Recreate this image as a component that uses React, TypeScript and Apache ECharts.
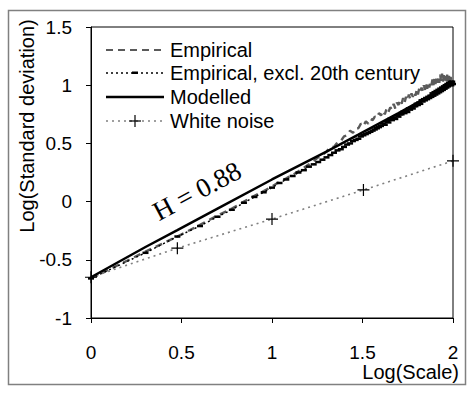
import React, { useEffect, useRef } from "react";
import * as echarts from "echarts";

// Scales (time window lengths) at which the standard deviation was measured
const scales = [
  1, 2, 3, 4, 5, 6, 7, 8, 9, 10, 11, 12, 13, 14, 15, 16, 17, 18, 19, 20,
  21, 22, 23, 24, 25, 26, 27, 28, 29, 30, 31, 32, 33, 34, 35, 36, 37, 38, 39, 40,
  41, 42, 43, 44, 45, 46, 47, 48, 49, 50, 51, 52, 53, 54, 55, 56, 57, 58, 59, 60,
  61, 62, 63, 64, 65, 66, 67, 68, 69, 70, 71, 72, 73, 74, 75, 76, 77, 78, 79, 80,
  81, 82, 83, 84, 85, 86, 87, 88, 89, 90, 91, 92, 93, 94, 95, 96, 97, 98, 99, 100,
];

// Log(Standard deviation), empirical
const empirical = [
  -0.66, -0.43, -0.3, -0.2, -0.12, -0.06, 0.0, 0.05, 0.09, 0.13,
  0.17, 0.2, 0.23, 0.26, 0.29, 0.32, 0.35, 0.38, 0.4, 0.43,
  0.47, 0.47, 0.51, 0.52, 0.56, 0.57, 0.61, 0.59, 0.63, 0.63,
  0.67, 0.65, 0.69, 0.67, 0.71, 0.7, 0.73, 0.72, 0.76, 0.74,
  0.78, 0.75, 0.8, 0.77, 0.81, 0.79, 0.84, 0.8, 0.85, 0.83,
  0.87, 0.84, 0.89, 0.85, 0.9, 0.87, 0.92, 0.88, 0.93, 0.9,
  0.94, 0.91, 0.96, 0.92, 0.97, 0.94, 0.98, 0.95, 1.0, 0.96,
  1.01, 0.97, 1.02, 0.98, 1.03, 1.0, 1.05, 1.0, 1.06, 1.01,
  1.07, 1.02, 1.08, 1.02, 1.09, 1.03, 1.1, 1.03, 1.09, 1.04,
  1.08, 1.03, 1.09, 1.04, 1.08, 1.03, 1.07, 1.04, 1.06, 1.03,
];

// Log(Standard deviation), empirical excluding the 20th century
const empiricalExcl20th = [
  -0.66, -0.44, -0.3, -0.21, -0.13, -0.07, -0.01, 0.04, 0.08, 0.12,
  0.16, 0.19, 0.22, 0.25, 0.27, 0.3, 0.32, 0.34, 0.36, 0.38,
  0.4, 0.42, 0.44, 0.45, 0.47, 0.49, 0.5, 0.52, 0.53, 0.54,
  0.56, 0.57, 0.58, 0.59, 0.6, 0.61, 0.62, 0.63, 0.64, 0.65,
  0.67, 0.66, 0.69, 0.68, 0.71, 0.7, 0.72, 0.71, 0.74, 0.73,
  0.75, 0.75, 0.77, 0.76, 0.78, 0.77, 0.8, 0.79, 0.81, 0.8,
  0.82, 0.82, 0.84, 0.83, 0.85, 0.84, 0.87, 0.86, 0.88, 0.87,
  0.89, 0.88, 0.9, 0.89, 0.91, 0.9, 0.93, 0.91, 0.94, 0.92,
  0.95, 0.93, 0.96, 0.94, 0.97, 0.95, 0.98, 0.96, 0.99, 0.97,
  1.0, 0.98, 1.01, 0.99, 1.02, 1.0, 1.03, 1.0, 1.03, 1.01,
];

// Modelled curve
const modelledScales = [1, 2, 3, 5, 10, 20, 30, 50, 100];
const modelled = [-0.65, -0.39, -0.245, -0.06, 0.19, 0.43, 0.575, 0.76, 1.02];

// White noise reference
const whiteNoiseScales = [1, 3, 10, 32, 100];
const whiteNoise = [-0.65, -0.4, -0.15, 0.1, 0.35];

const xTicks = [0, 0.5, 1, 1.5, 2];
const yTicks = [-1, -0.5, 0, 0.5, 1, 1.5];

const names = ["Empirical", "Empirical, excl. 20th century", "Modelled", "White noise"];

const SANS = "'Liberation Sans', Arial, sans-serif";
const SERIF = "'Liberation Serif', 'Times New Roman', serif";
const PLUS = "path://M5.4,0h1.2v5.4h5.4v1.2h-5.4v5.4h-1.2v-5.4h-5.4v-1.2h5.4z";

const GRAY_DASH = "#5a5a5a";
const GRAY_DOT = "#808080";

const toPoints = (s: number[], v: number[]) => s.map((n, i) => [Math.log10(n), v[i]]);

// legend layout (pixels)
const LEG_X0 = 106;
const LEG_X1 = 164;
const LEG_TEXT_X = 170;
const LEG_ROWS = [50, 73, 97, 121];

function legendGraphics() {
  const g: any[] = [];
  const line = (y: number, style: any) => ({
    type: "line",
    silent: true,
    shape: { x1: LEG_X0, y1: y, x2: LEG_X1, y2: y },
    style: { fill: "none", ...style },
  });
  g.push(line(LEG_ROWS[0], { stroke: GRAY_DASH, lineWidth: 2.2, lineDash: [7, 5] }));
  g.push(line(LEG_ROWS[1], { stroke: "#000", lineWidth: 1.5, lineDash: [2, 3] }));
  g.push({
    type: "rect",
    silent: true,
    shape: { x: (LEG_X0 + LEG_X1) / 2 - 3, y: LEG_ROWS[1] - 1.5, width: 6, height: 2.5 },
    style: { fill: "#000" },
  });
  g.push(line(LEG_ROWS[2], { stroke: "#000", lineWidth: 2.5 }));
  g.push(line(LEG_ROWS[3], { stroke: GRAY_DOT, lineWidth: 1.6, lineDash: [2, 4] }));
  const cx = (LEG_X0 + LEG_X1) / 2;
  g.push(line(LEG_ROWS[3], { stroke: "#000", lineWidth: 1.2 }));
  g[g.length - 1].shape = { x1: cx - 6, y1: LEG_ROWS[3], x2: cx + 6, y2: LEG_ROWS[3] };
  g.push({
    type: "line",
    silent: true,
    shape: { x1: cx, y1: LEG_ROWS[3] - 6, x2: cx, y2: LEG_ROWS[3] + 6 },
    style: { stroke: "#000", lineWidth: 1.2 },
  });
  names.forEach((name, i) => {
    g.push({
      type: "text",
      silent: true,
      x: LEG_TEXT_X,
      y: LEG_ROWS[i],
      style: {
        text: name,
        fontSize: 20,
        fontFamily: SANS,
        fill: "#000",
        align: "left",
        verticalAlign: "middle",
      },
    });
  });
  return g;
}

export default function App() {
  const ref = useRef<HTMLDivElement>(null);
  useEffect(() => {
    if (!ref.current) return;
    const chart = echarts.init(ref.current, undefined, { renderer: "svg" });
    chart.setOption({
      animation: false,
      backgroundColor: "#fff",
      grid: {
        left: 91,
        top: 27,
        width: 362,
        height: 291,
        show: true,
        borderColor: "#000",
        borderWidth: 1,
        backgroundColor: "transparent",
      },
      xAxis: {
        type: "value",
        min: 0,
        max: 2,
        interval: 0.5,
        axisLine: { show: true, onZero: false, lineStyle: { color: "#000", width: 1 } },
        axisTick: { show: true, length: 5, lineStyle: { color: "#000" } },
        splitLine: { show: false },
        axisLabel: {
          margin: 25,
          fontSize: 19,
          fontFamily: SANS,
          color: "#000",
          formatter: (v: number) => (xTicks.includes(v) ? String(v) : ""),
        },
      },
      yAxis: {
        type: "value",
        min: -1,
        max: 1.5,
        interval: 0.5,
        axisLine: { show: true, onZero: false, lineStyle: { color: "#000", width: 1 } },
        axisTick: { show: true, length: 5, lineStyle: { color: "#000" } },
        splitLine: { show: false },
        axisLabel: {
          margin: 19,
          fontSize: 19,
          fontFamily: SANS,
          color: "#000",
          formatter: (v: number) => (yTicks.includes(v) ? String(v) : ""),
        },
      },
      series: [
        {
          name: names[0],
          type: "line",
          data: toPoints(scales, empirical),
          symbol: "none",
          lineStyle: { color: GRAY_DASH, width: 2.4, type: [7, 5] },
          itemStyle: { color: GRAY_DASH },
          z: 2,
        },
        {
          name: names[1],
          type: "line",
          data: toPoints(scales, empiricalExcl20th),
          symbol: "rect",
          symbolSize: [6, 2.5],
          showSymbol: true,
          showAllSymbol: true,
          lineStyle: { color: "#000", width: 1.5, type: [2, 3] },
          itemStyle: { color: "#000" },
          z: 3,
        },
        {
          name: names[2],
          type: "line",
          data: toPoints(modelledScales, modelled),
          symbol: "none",
          lineStyle: { color: "#000", width: 2.5, type: "solid" },
          itemStyle: { color: "#000" },
          z: 4,
        },
        {
          name: names[3],
          type: "line",
          data: toPoints(whiteNoiseScales, whiteNoise),
          symbol: PLUS,
          symbolSize: 12,
          showSymbol: true,
          lineStyle: { color: GRAY_DOT, width: 1.6, type: [2, 4] },
          itemStyle: { color: "#000" },
          z: 3,
        },
      ],
      graphic: [
        {
          type: "rect",
          shape: { x: 8.5, y: 10.5, width: 457, height: 374 },
          style: { fill: "none", stroke: "#808080", lineWidth: 1.5 },
          silent: true,
        },
        ...legendGraphics(),
        {
          type: "text",
          x: 27,
          y: 126,
          rotation: Math.PI / 2,
          style: {
            text: "Log(Standard deviation)",
            fontSize: 20,
            fontFamily: SANS,
            fill: "#000",
            align: "center",
            verticalAlign: "middle",
          },
        },
        {
          type: "text",
          x: 459,
          y: 372,
          style: {
            text: "Log(Scale)",
            fontSize: 20,
            fontFamily: SANS,
            fill: "#000",
            align: "right",
            verticalAlign: "middle",
          },
        },
        {
          type: "text",
          x: 197,
          y: 191,
          rotation: (28 * Math.PI) / 180,
          style: {
            text: "H = 0.88",
            fontSize: 27,
            fontFamily: SERIF,
            fill: "#000",
            align: "center",
            verticalAlign: "middle",
          },
        },
      ],
    });
    return () => chart.dispose();
  }, []);
  return (
    <div
      ref={ref}
      style={{ position: "fixed", left: 0, top: 0, width: 469, height: 394 }}
    />
  );
}
